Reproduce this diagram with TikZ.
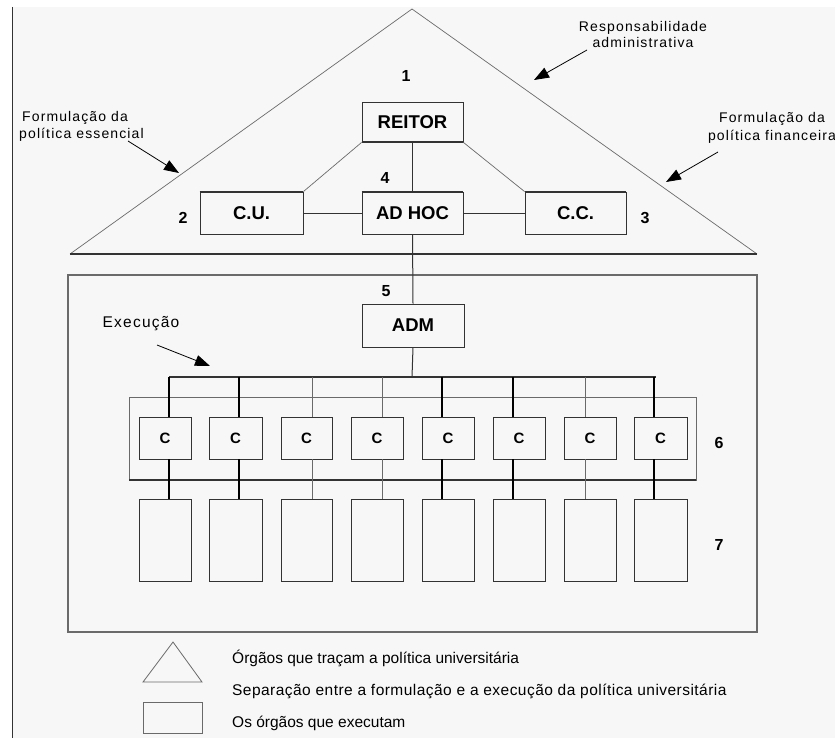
\documentclass[tikz,border=0pt]{standalone}
\usepackage{fontspec}
\setmainfont{Liberation Sans}
\newfontfamily\spaced[LetterSpace=8]{Liberation Sans}
\newfontfamily\spacedb[LetterSpace=3]{Liberation Sans}
\usetikzlibrary{arrows.meta}
\definecolor{bg}{HTML}{F7F7F7}
\definecolor{edge}{HTML}{333333}
\definecolor{soft}{HTML}{6A6A6A}
\begin{document}
\begin{tikzpicture}[x=1pt,y=-1pt,
  box/.style={draw=edge, line width=0.9pt, inner sep=0pt, fill=bg},
  lbl/.style={font=\fontsize{18.5}{20}\selectfont\bfseries},
  cl/.style={font=\fontsize{15}{17}\selectfont\bfseries},
  num/.style={font=\fontsize{16}{18}\selectfont\bfseries},
  note/.style={font=\spaced\fontsize{14}{16.5}\selectfont, align=center, inner sep=0pt},
  leg/.style={font=\fontsize{15.5}{17}\selectfont, anchor=west, inner sep=0pt},
  arr/.style={-{Triangle[length=15pt,width=11pt]}, line width=0.8pt, black},
  thin/.style={draw=soft, line width=0.7pt},
  heavy/.style={draw=black, line width=1.8pt},
  light/.style={draw=soft, line width=0.8pt}
]
\useasboundingbox (0,0) rectangle (835,738);
\fill[bg] (13,7) rectangle (835,738);
\draw[edge, line width=1.6pt] (12.5,7) -- (12.5,738);

% triangle
\coordinate (tl) at (70,254);
\coordinate (ta) at (412,9);
\coordinate (tr) at (757,254);
\draw[thin] (tl) -- (ta) -- (tr);
\draw[edge, line width=1.3pt] (tl) -- (tr);

% top boxes
\node[box, lbl, minimum width=101pt, minimum height=40pt] (reitor) at (412.5,122) {REITOR};
\node[box, lbl, minimum width=103pt, minimum height=42pt] (cu) at (251.5,213) {C.U.};
\node[box, lbl, minimum width=101pt, minimum height=42pt] (adhoc) at (412.5,213) {AD HOC};
\node[box, lbl, minimum width=101pt, minimum height=42pt] (cc) at (575.5,213) {C.C.};
\draw[edge, line width=2pt] (reitor.south west) -- (reitor.south east);
\draw[edge, line width=1.6pt] (cu.north west) -- (cu.north east);
\draw[edge, line width=1.6pt] (adhoc.north west) -- (adhoc.north east);
\draw[edge, line width=1.4pt] (cc.north west) -- (cc.north east);

\draw[thin] (reitor.south west) -- (cu.north east);
\draw[thin] (reitor.south east) -- (cc.north west);
\draw[edge, line width=0.9pt] (reitor.south) -- (adhoc.north);
\draw[edge, line width=0.9pt] (cu.east) -- (adhoc.west);
\draw[edge, line width=0.9pt] (adhoc.east) -- (cc.west);

\node[num] (n1) at (406,76) {1};
\node[num] (n2) at (183,218) {2};
\node[num] (n3) at (645,218) {3};
\node[num] (n4) at (385,178) {4};

% notes
\node[note] (resp) at (643,34.5) {Responsabilidade\\administrativa};
\coordinate (respA) at (587,50);
\coordinate (respB) at (534,80);
\draw[arr] (respA) -- (respB);

\node[note, font=\spaced\fontsize{14}{18}\selectfont] (fin) at (772,127.5) {Formulação da\\política financeira};
\coordinate (finA) at (718,152);
\coordinate (finB) at (666,182);
\draw[arr] (finA) -- (finB);

\node[note, align=left, anchor=west, font=\spaced\fontsize{14}{17}\selectfont] (ess) at (19,126.5) {\hspace{3pt}Formulação da\\política essencial};
\coordinate (essA) at (128,141);
\coordinate (essB) at (179,173);
\draw[arr] (essA) -- (essB);

% execution frame
\draw[draw=soft, line width=1.3pt] (68,275) rectangle (757,632);
\node[box, lbl, minimum width=102pt, minimum height=43pt] (adm) at (413,325.5) {ADM};
\node[num] (n5) at (386,291) {5};
\draw[edge, line width=1pt] (adhoc.south) -- (adm.north);

\node[note, font=\spaced\fontsize{15.5}{17}\selectfont] (exec) at (141,324) {Execução};
\coordinate (execA) at (157,345);
\coordinate (execB) at (210,366);
\draw[arr] (execA) -- (execB);

% group of C boxes
\draw[soft, line width=0.9pt] (129,397) rectangle (696,480);
\draw[edge, line width=1.6pt] (129,480) -- (696,480);

\coordinate (bus) at (412,377);
\draw[edge, line width=1pt] (adm.south) -- (bus);
\draw[edge, line width=1.3pt] (169,377) -- (656,377);

\foreach \i/\cx/\w/\lx/\st in {1/165/52/169/heavy, 2/235.5/53/239/heavy, 3/306.5/51/312/light, 4/377/52/382/light, 5/448/52/442/heavy, 6/519/52/513/heavy, 7/590/52/585/light, 8/660.5/53/654/heavy}{
  \node[box, cl, minimum width=\w pt, minimum height=42pt] (c\i) at (\cx,438) {C};
  \node[box, minimum width=\w pt, minimum height=82pt] (d\i) at (\cx,540) {};
  \coordinate (b\i) at (\lx,377);
  \draw[\st] (b\i) -- (b\i |- c\i.north);
  \draw[\st] (b\i |- c\i.south) -- (b\i |- d\i.north);
}

\node[num] (n6) at (719,443) {6};
\node[num] (n7) at (719,545) {7};

% legend
\coordinate (la) at (173,642);
\coordinate (lb) at (143,682);
\coordinate (lc) at (202,682);
\draw[soft, line width=0.8pt] (lb) -- (la) -- (lc) -- cycle;
\node[draw=soft, line width=0.8pt, inner sep=0pt, minimum width=59pt, minimum height=31pt] (lr) at (172.5,717.5) {};
\node[leg] (l1) at (232,658) {Órgãos que traçam a política universitária};
\node[leg, font=\spacedb\fontsize{15.5}{17}\selectfont] (l2) at (232,691) {Separação entre a formulação e a execução da política universitária};
\node[leg] (l3) at (232,723) {Os órgãos que executam};
\end{tikzpicture}
\end{document}
